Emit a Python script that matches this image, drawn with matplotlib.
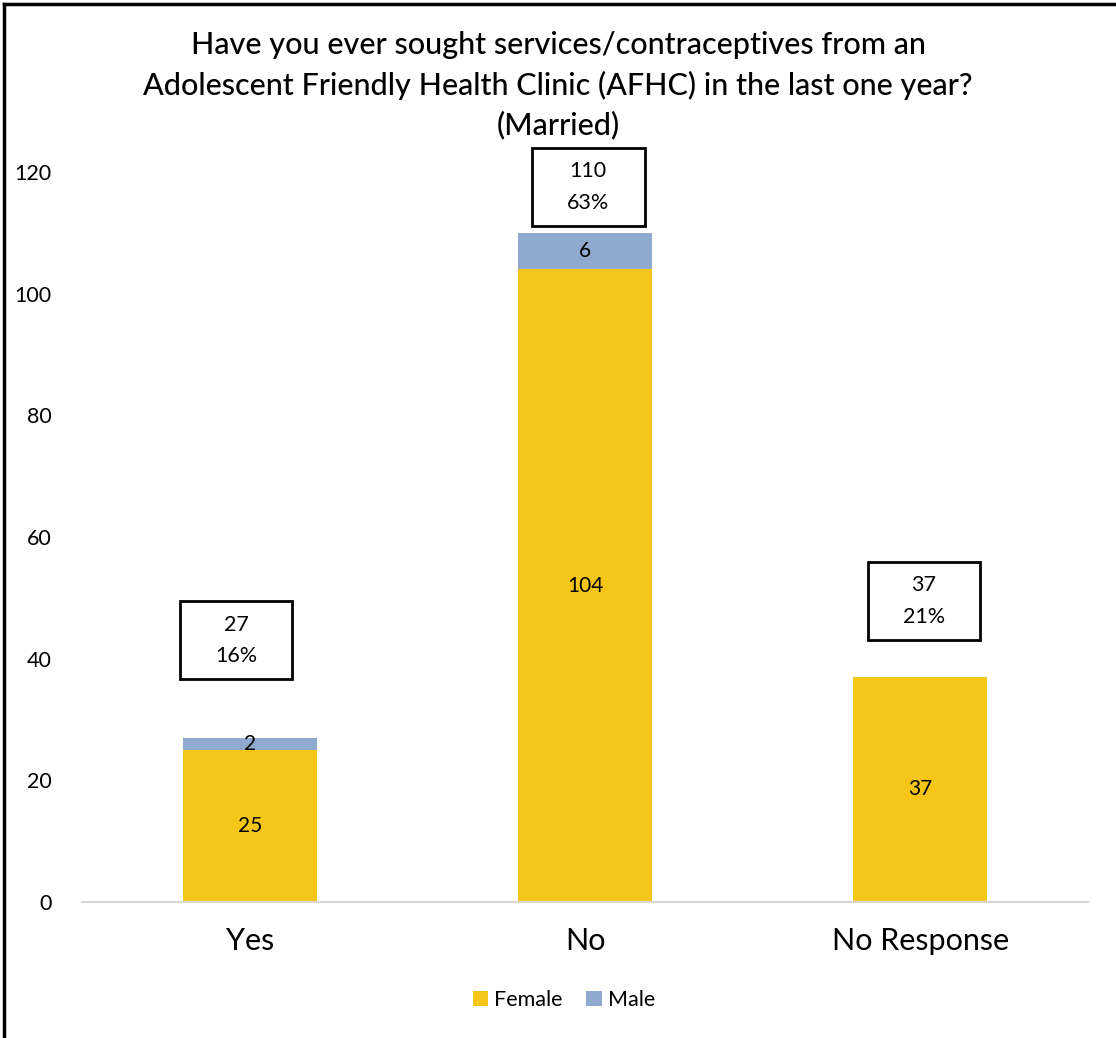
import matplotlib
matplotlib.use("Agg")
import matplotlib.pyplot as plt
from matplotlib.patches import Rectangle
from matplotlib.lines import Line2D
import numpy as np

categories = ["Yes", "No", "No Response"]
female = [25, 104, 37]
male = [2, 6, 0]
percent = ["16%", "63%", "21%"]

title_lines = ["Have you ever sought services/contraceptives from an",
               "Adolescent Friendly Health Clinic (AFHC) in the last one year?",
               "(Married)"]

YELLOW = "#F5C518"
BLUE = "#8FA9CF"
FONT = ["Lato", "DejaVu Sans"]

W, H = 1116, 1038
fig = plt.figure(figsize=(W / 100, H / 100), dpi=100)
ax = fig.add_axes([82 / W, 1 - 902 / H, (1088 - 82) / W, (902 - 172) / H])

x = np.arange(len(categories))
totals = [f + m for f, m in zip(female, male)]
bw = 0.40
bars_f = ax.bar(x, female, width=bw, color=YELLOW, label="Female", zorder=2)
bars_m = ax.bar(x, male, width=bw, bottom=female, color=BLUE, label="Male", zorder=2)

for i, (f, m) in enumerate(zip(female, male)):
    ax.text(x[i], f / 2, f"{f}", ha="center", va="center", fontsize=15,
            family=FONT, color="black", zorder=3)
    if m > 0:
        ax.text(x[i], f + m / 2, f"{m}", ha="center", va="center", fontsize=15,
                family=FONT, color="black", zorder=3)

# Callout boxes with total and share
box_dx = [-0.04, 0.01, 0.01]
box_dy = [16, 7.5, 12.5]
bwid, bhgt = 0.335, 12.8
for i, t in enumerate(totals):
    cx = x[i] + box_dx[i]
    cy = t + box_dy[i]
    ax.add_patch(Rectangle((cx - bwid / 2, cy - bhgt / 2), bwid, bhgt,
                           facecolor="white", edgecolor="black", lw=2,
                           zorder=4, clip_on=False))
    ax.text(cx, cy + 2.6, f"{t}", ha="center", va="center",
            fontsize=15.5, family=FONT, zorder=5)
    ax.text(cx, cy - 2.6, percent[i], ha="center", va="center",
            fontsize=15.5, family=FONT, zorder=5)

ax.set_xlim(-0.5, 2.5)
ax.set_ylim(0, 120)
ax.set_yticks(range(0, 121, 20))
ax.set_xticks(x)
ax.set_xticklabels(categories, fontsize=22, family=FONT)
for lab in ax.get_yticklabels():
    lab.set_fontsize(15.5)
    lab.set_family(FONT)
ax.tick_params(axis="both", length=0)
ax.tick_params(axis="x", pad=18)
ax.tick_params(axis="y", pad=22)
for s in ["top", "right", "left"]:
    ax.spines[s].set_visible(False)
ax.spines["bottom"].set_color("#D9D9D9")
ax.spines["bottom"].set_linewidth(1.5)

for k, line in enumerate(title_lines):
    fig.text(0.5, 1 - (45 + 40 * k) / H, line, ha="center", va="center",
             fontsize=22, family=FONT, weight="medium")

leg = fig.legend(handles=[bars_f, bars_m], labels=["Female", "Male"],
                 loc="center", bbox_to_anchor=(564 / W, 1 - 1000 / H),
                 ncol=2, frameon=False, prop={"family": FONT, "size": 15.5},
                 handlelength=0.7, handleheight=0.7, handletextpad=0.3,
                 columnspacing=1.1)

# Frame lines along the top and left edges
fig.add_artist(Line2D([4 / W, 1], [1 - 4 / H, 1 - 4 / H], color="black", lw=2.5,
                      transform=fig.transFigure))
fig.add_artist(Line2D([4 / W, 4 / W], [0, 1 - 4 / H], color="black", lw=2.5,
                      transform=fig.transFigure))

fig.savefig("out.png", dpi=100)
